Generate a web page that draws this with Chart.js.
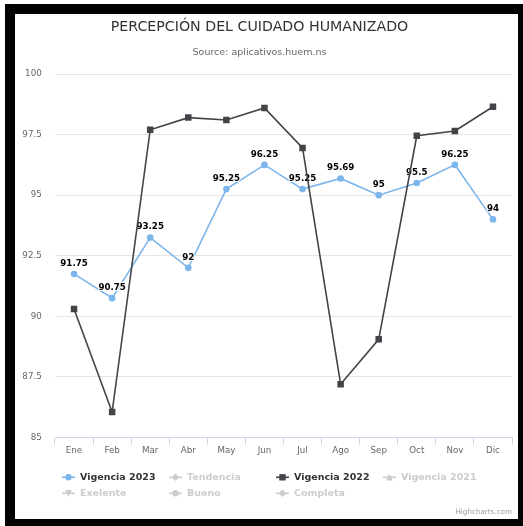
<!DOCTYPE html>
<html>
    <head>
        <title>Percepción del cuidado humanizado</title>
        <style>
            body { margin: 0; background: #fff; }
            #wrap { position: absolute; left: 7px; top: 14px; width: 513px; height: 505px; }
            #frame {
                position: absolute; left: 5px; top: 4px;
                width: 503px; height: 505px;
                border: 10px solid #000;
                pointer-events: none;
            }
        </style>
        <script src="https://cdn.jsdelivr.net/npm/chart.js"></script>
    </head>
<body>
    <div id="wrap"><canvas id="chart" width="513" height="505"></canvas></div>
    <div id="frame"></div>

    <script>
        const months = ["Ene", "Feb", "Mar", "Abr", "May", "Jun", "Jul", "Ago", "Sep", "Oct", "Nov", "Dic"];
        const vigencia2023 = [91.75, 90.75, 93.25, 92, 95.25, 96.25, 95.25, 95.69, 95, 95.5, 96.25, 94];
        const vigencia2022 = [90.3, 86.05, 97.7, 98.2, 98.1, 98.6, 96.95, 87.2, 89.05, 97.45, 97.65, 98.65];
        const yTickValues = [85, 87.5, 90, 92.5, 95, 97.5, 100];

        // series shown in the legend (hidden ones have no data on screen)
        const seriesNames = ["Vigencia 2023", "Tendencia", "Vigencia 2022", "Vigencia 2021", "Exelente", "Bueno", "Completa"];
        const seriesColors = ["#7cb5ec", "#434348", "#434348", "#f7a35c", "#8085e9", "#f15c80", "#e4d354"];
        const seriesMarkers = ["circle", "diamond", "square", "triangle", "triangle-down", "circle", "diamond"];
        const seriesHidden = [false, true, false, true, true, true, true];
        const seriesData = [vigencia2023, [], vigencia2022, [], [], [], []];

        const FONT = "'DejaVu Sans', sans-serif";
        Chart.defaults.font.family = FONT;

        function drawMarker(ctx, type, x, y) {
            ctx.beginPath();
            if (type === "circle") {
                ctx.arc(x, y, 3.2, 0, Math.PI * 2);
            } else if (type === "square") {
                ctx.rect(x - 3.2, y - 3.2, 6.4, 6.4);
            } else if (type === "diamond") {
                ctx.moveTo(x, y - 3.8); ctx.lineTo(x + 3.8, y); ctx.lineTo(x, y + 3.8); ctx.lineTo(x - 3.8, y);
            } else if (type === "triangle") {
                ctx.moveTo(x, y - 3.4); ctx.lineTo(x + 3.4, y + 3.2); ctx.lineTo(x - 3.4, y + 3.2);
            } else {
                ctx.moveTo(x, y + 3.4); ctx.lineTo(x + 3.4, y - 3.2); ctx.lineTo(x - 3.4, y - 3.2);
            }
            ctx.closePath();
            ctx.fill();
        }

        // value labels above the 2023 points, drawn before the 2022 line goes on top
        const pointLabels = {
            id: "pointLabels",
            afterDatasetDraw(chart, args) {
                if (args.index !== 0) return;
                const ctx = chart.ctx;
                ctx.save();
                ctx.font = "bold 8.7px " + FONT;
                ctx.textAlign = "center";
                ctx.textBaseline = "middle";
                ctx.lineJoin = "round";
                args.meta.data.forEach((pt, i) => {
                    const txt = String(vigencia2023[i]);
                    ctx.strokeStyle = "#ffffff";
                    ctx.lineWidth = 2;
                    ctx.strokeText(txt, pt.x, pt.y - 10.5);
                    ctx.fillStyle = "#000000";
                    ctx.fillText(txt, pt.x, pt.y - 10.5);
                });
                ctx.restore();
            }
        };

        // legend in fixed columns plus the credits line
        const colLegend = {
            id: "colLegend",
            afterDraw(chart) {
                const ctx = chart.ctx;
                ctx.save();
                ctx.font = "bold 9.5px " + FONT;
                ctx.textBaseline = "middle";
                seriesNames.forEach((name, i) => {
                    const x = 55 + (i % 4) * 107;
                    const y = 463.3 + Math.floor(i / 4) * 16;
                    const color = seriesHidden[i] ? "#cccccc" : seriesColors[i];
                    ctx.strokeStyle = color;
                    ctx.fillStyle = color;
                    ctx.lineWidth = 1.6;
                    ctx.beginPath();
                    ctx.moveTo(x, y);
                    ctx.lineTo(x + 13, y);
                    ctx.stroke();
                    drawMarker(ctx, seriesMarkers[i], x + 6.5, y);
                    ctx.fillStyle = seriesHidden[i] ? "#cccccc" : "#333333";
                    ctx.fillText(name, x + 18, y);
                });
                ctx.font = "7.2px " + FONT;
                ctx.fillStyle = "#999999";
                ctx.textAlign = "right";
                ctx.fillText("Highcharts.com", 505, 497.7);
                ctx.restore();
            }
        };

        const datasets = seriesNames.map((name, i) => ({
            label: name,
            data: seriesData[i],
            hidden: seriesHidden[i],
            borderColor: seriesColors[i],
            backgroundColor: seriesColors[i],
            borderWidth: 1.6,
            pointStyle: seriesMarkers[i] === "square" ? "rect" : "circle",
            pointRadius: seriesMarkers[i] === "square" ? 4.6 : 3.3,
            pointHoverRadius: 4.6,
            pointBorderWidth: 0,
            tension: 0,
            fill: false,
            order: i === 0 ? 2 : 1
        }));

        let ctx = document.getElementById("chart").getContext("2d");

        let chart = new Chart(ctx, {
            type: "line",
            data: { labels: months, datasets: datasets },
            plugins: [pointLabels, colLegend],
            options: {
                responsive: false,
                animation: false,
                layout: { padding: { left: 0, right: 8, top: 0, bottom: 0 } },
                plugins: {
                    legend: { display: false },
                    tooltip: { enabled: false },
                    title: {
                        display: true,
                        text: "PERCEPCIÓN DEL CUIDADO HUMANIZADO",
                        color: "#333333",
                        font: { size: 14.2, weight: "normal", lineHeight: 1.2 },
                        padding: { top: 5.2, bottom: 0 }
                    },
                    subtitle: {
                        display: true,
                        text: "Source: aplicativos.huem.ns",
                        color: "#666666",
                        font: { size: 9.5, weight: "normal", lineHeight: 1.2 },
                        padding: { top: 11.06, bottom: 15.3 }
                    }
                },
                scales: {
                    x: {
                        offset: true,
                        grid: { offset: true, drawOnChartArea: false, drawTicks: true, tickLength: 7, color: "#ccd6eb", lineWidth: 1 },
                        border: { color: "#ccd6eb", width: 1 },
                        ticks: { color: "#666666", font: { size: 8.7 }, padding: 1, maxRotation: 0, autoSkip: false },
                        afterFit(s) { s.height = 81.5; }
                    },
                    y: {
                        min: 85,
                        max: 100,
                        afterBuildTicks(s) { s.ticks = yTickValues.map(v => ({ value: v })); },
                        grid: { color: "#e6e6e6", drawTicks: false, lineWidth: 1 },
                        border: { display: false },
                        ticks: { color: "#666666", font: { size: 8.7 }, padding: 13.3, callback: v => String(v) },
                        afterFit(s) { s.width = 48; }
                    }
                }
            }
        });
    </script>
</body>
</html>
